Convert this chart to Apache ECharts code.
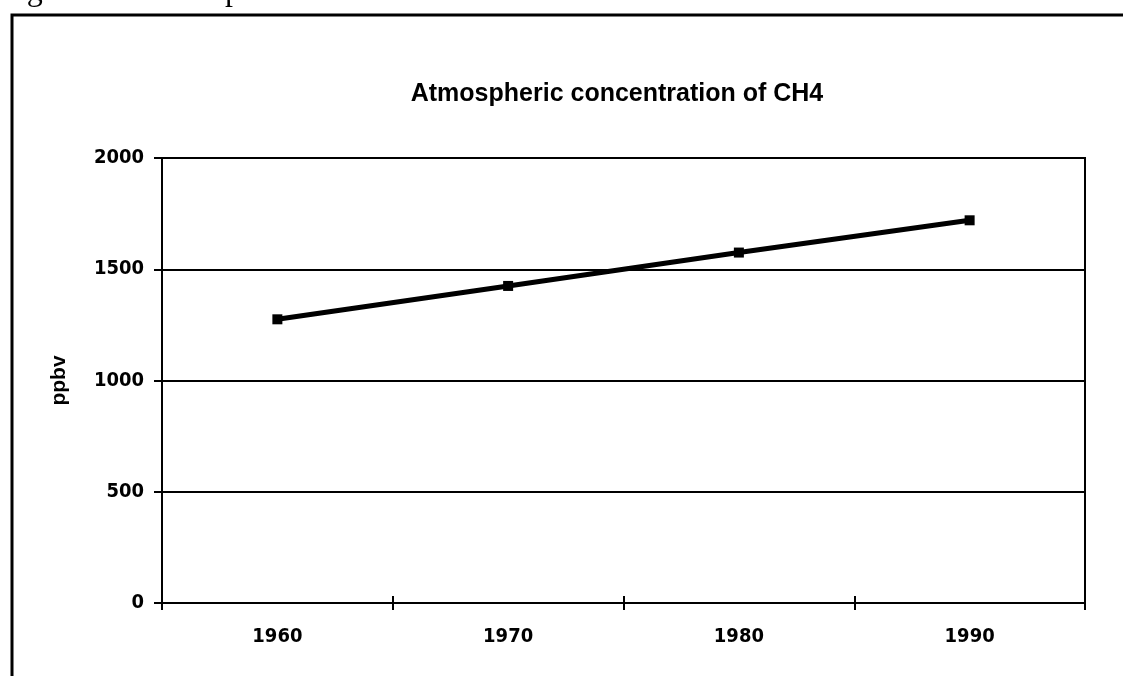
<!doctype html>
<html>
<head>
<meta charset="utf-8">
<script src="https://cdn.jsdelivr.net/npm/echarts@6/dist/echarts.min.js"></script>
<style>
  html, body { margin: 0; padding: 0; background: #fff; }
  #chart { width: 1123px; height: 676px; }
</style>
</head>
<body>
<div id="chart"></div>
<script>
  // values
  var years = ['1960', '1970', '1980', '1990'];
  var ch4 = [1275, 1425, 1575, 1720];
  var yTicks = [0, 500, 1000, 1500, 2000];

  var tickFont = {
    fontFamily: '"DejaVu Sans Condensed", "Liberation Sans Narrow", sans-serif',
    fontWeight: 'bold',
    fontSize: 20,
    color: '#000'
  };

  var chart = echarts.init(document.getElementById('chart'));
  chart.setOption({
    backgroundColor: '#fff',
    animation: false,
    title: {
      text: 'Atmospheric concentration of CH4',
      left: 612,
      top: 77,
      textAlign: 'center',
      textStyle: {
        fontFamily: '"Liberation Sans", Arial, sans-serif',
        fontWeight: 'bold',
        fontSize: 25,
        color: '#000'
      }
    },
    graphic: [
      {
        // caption of the page, cut off by the scan
        type: 'text',
        left: 0,
        top: -24,
        style: {
          text: 'Figure 2.3 Atmospheric concentration of methane from 1960 to 1990',
          font: '32px "Liberation Serif", serif',
          fill: '#000'
        }
      },
      {
        type: 'polyline',
        shape: { points: [[12, 676], [12, 15], [1123, 15]] },
        style: { stroke: '#000', lineWidth: 3, fill: null }
      }
    ],
    grid: {
      left: 162, right: 38, top: 158, bottom: 73,
      show: true, borderColor: '#000', borderWidth: 2
    },
    xAxis: [
      {
        type: 'category',
        data: years,
        boundaryGap: true,
        axisLine: { lineStyle: { color: '#000', width: 2 } },
        axisTick: { show: true, length: 7, lineStyle: { color: '#000', width: 2 } },
        axisLabel: Object.assign({ margin: 24 }, tickFont),
        splitLine: { show: false }
      },
      {
        type: 'category',
        data: years,
        position: 'bottom',
        boundaryGap: true,
        axisLine: { show: false },
        axisTick: { show: true, inside: true, length: 7, lineStyle: { color: '#000', width: 2 } },
        axisLabel: { show: false },
        splitLine: { show: false }
      }
    ],
    yAxis: {
      type: 'value',
      min: yTicks[0],
      max: yTicks[yTicks.length - 1],
      interval: 500,
      name: 'ppbv',
      nameLocation: 'middle',
      nameGap: 92,
      nameRotate: 90,
      nameTextStyle: {
        fontFamily: '"Liberation Sans", Arial, sans-serif',
        fontWeight: 'bold',
        fontSize: 21,
        color: '#000'
      },
      axisLine: { show: true, lineStyle: { color: '#000', width: 2 } },
      axisTick: { show: true, length: 8, lineStyle: { color: '#000', width: 2 } },
      axisLabel: Object.assign({ margin: 18, formatter: function (v) { return String(v); } }, tickFont),
      splitLine: { show: true, lineStyle: { color: '#000', width: 2 } }
    },
    series: [{
      type: 'line',
      data: ch4,
      symbol: 'rect',
      symbolSize: 10,
      lineStyle: { color: '#000', width: 5 },
      itemStyle: { color: '#000' }
    }]
  });
</script>
</body>
</html>
